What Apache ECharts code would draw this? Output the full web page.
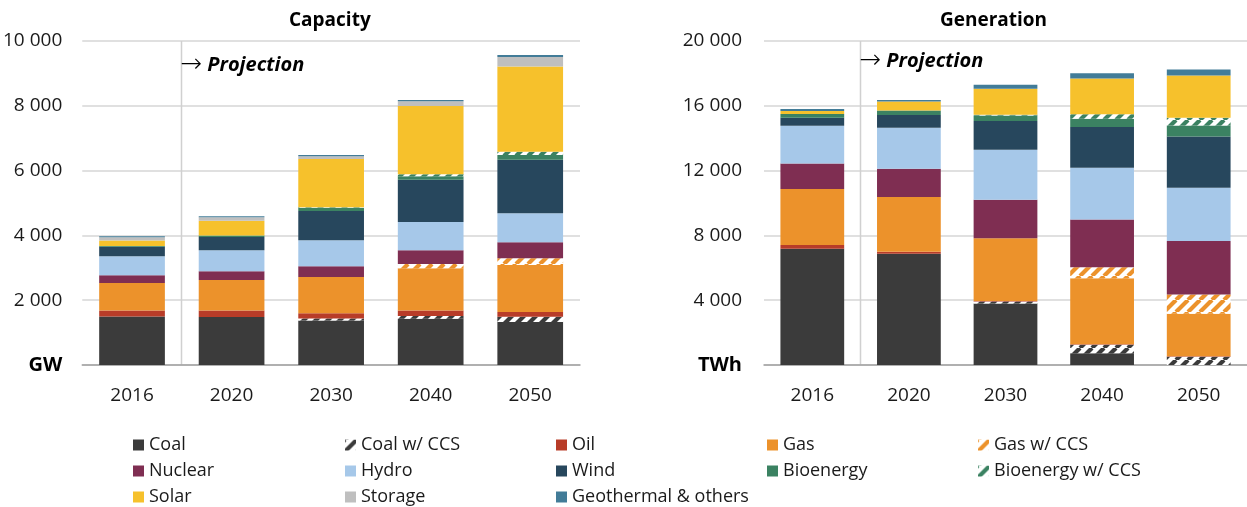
<!DOCTYPE html>
<html>
<head>
<meta charset="utf-8">
<script src="https://cdn.jsdelivr.net/npm/echarts@6/dist/echarts.min.js"></script>
<style>
html,body{margin:0;padding:0;background:#fff;}
#chart{width:1247px;height:507px;}
</style>
</head>
<body>
<div id="chart"></div>
<script>
// ---------- DATA ----------
const years = ['2016', '2020', '2030', '2040', '2050'];

// Capacity (GW)
const capCoal       = [1500, 1480, 1375, 1430, 1325];
const capCoalCCS    = [0, 0, 60, 80, 165];
const capOil        = [185, 205, 165, 175, 145];
const capGas        = [845, 935, 1115, 1300, 1455];
const capGasCCS     = [0, 0, 0, 135, 205];
const capNuclear    = [240, 270, 330, 425, 495];
const capHydro      = [590, 650, 805, 865, 895];
const capWind       = [290, 410, 905, 1310, 1650];
const capBio        = [20, 50, 95, 105, 145];
const capBioCCS     = [0, 0, 15, 60, 105];
const capSolar      = [175, 455, 1495, 2110, 2630];
const capStorage    = [100, 105, 85, 145, 290];
const capGeo        = [30, 30, 40, 40, 60];

// Generation (TWh)
const genCoal       = [7170, 6860, 3790, 720, 0];
const genCoalCCS    = [0, 0, 125, 535, 515];
const genOil        = [245, 125, 40, 20, 30];
const genGas        = [3445, 3380, 3875, 4080, 2615];
const genGasCCS     = [0, 0, 0, 680, 1195];
const genNuclear    = [1585, 1750, 2370, 2945, 3295];
const genHydro      = [2330, 2535, 3090, 3195, 3295];
const genWind       = [495, 785, 1775, 2515, 3155];
const genBio        = [225, 270, 330, 515, 680];
const genBioCCS     = [0, 0, 60, 270, 475];
const genSolar      = [185, 555, 1605, 2205, 2615];
const genGeo        = [125, 105, 245, 330, 370];

const capTicks = [0, 2000, 4000, 6000, 8000, 10000];
const genTicks = [0, 4000, 8000, 12000, 16000, 20000];

// Legend layout (rows of names)
const legendRows = [
  ['Coal', 'Coal w/ CCS', 'Oil', 'Gas', 'Gas w/ CCS'],
  ['Nuclear', 'Hydro', 'Wind', 'Bioenergy', 'Bioenergy w/ CCS'],
  ['Solar', 'Storage', 'Geothermal & others']
];

// ---------- STYLE ----------
const FONT = "'Open Sans', 'Noto Sans', sans-serif";
const C = {
  coal: '#3b3b3b', oil: '#b83c28', gas: '#ec922b', nuclear: '#7f2e52',
  hydro: '#a6c8e9', wind: '#27475d', bio: '#3b8262', solar: '#f6c12c',
  storage: '#bfbfbf', geo: '#427c98'
};

function hatch(color) {
  const s = 12;
  const c = document.createElement('canvas');
  c.width = s; c.height = s;
  const g = c.getContext('2d');
  g.fillStyle = '#ffffff';
  g.fillRect(0, 0, s, s);
  g.strokeStyle = color;
  g.lineWidth = 4.2;
  g.beginPath();
  for (const o of [-s, 0, s]) { g.moveTo(o, s); g.lineTo(o + s, 0); }
  g.stroke();
  return { image: c, repeat: 'repeat' };
}

const defs = [
  ['Coal',               C.coal,            capCoal,    genCoal],
  ['Coal w/ CCS',        hatch(C.coal),     capCoalCCS, genCoalCCS],
  ['Oil',                C.oil,             capOil,     genOil],
  ['Gas',                C.gas,             capGas,     genGas],
  ['Gas w/ CCS',         hatch(C.gas),      capGasCCS,  genGasCCS],
  ['Nuclear',            C.nuclear,         capNuclear, genNuclear],
  ['Hydro',              C.hydro,           capHydro,   genHydro],
  ['Wind',               C.wind,            capWind,    genWind],
  ['Bioenergy',          C.bio,             capBio,     genBio],
  ['Bioenergy w/ CCS',   hatch(C.bio),      capBioCCS,  genBioCCS],
  ['Solar',              C.solar,           capSolar,   genSolar],
  ['Storage',            C.storage,         capStorage, null],
  ['Geothermal & others',C.geo,             capGeo,     genGeo]
];

const series = [];
defs.forEach(([name, color, cap, gen]) => {
  series.push({
    name, type: 'bar', stack: 'cap', xAxisIndex: 0, yAxisIndex: 0,
    barWidth: '66%', data: cap, itemStyle: { color }, animation: false
  });
  if (gen) series.push({
    name, type: 'bar', stack: 'gen', xAxisIndex: 1, yAxisIndex: 1,
    barWidth: '66%', data: gen, itemStyle: { color }, animation: false
  });
});

function fmt(unit) {
  return function (v) {
    if (v === 0) return '{u|' + unit + '}';
    return String(v).replace(/\B(?=(\d{3})+(?!\d))/g, ' ');
  };
}

function yAxis(gridIndex, ticks, unit, margin) {
  return {
    type: 'value', gridIndex, min: ticks[0], max: ticks[ticks.length - 1],
    interval: ticks[1] - ticks[0],
    axisLine: { show: false }, axisTick: { show: false },
    splitLine: { lineStyle: { color: '#d6d6d6', width: 1.5 } },
    axisLabel: {
      formatter: fmt(unit), margin, color: '#1a1a1a', fontSize: 19, fontFamily: FONT,
      rich: { u: { fontWeight: 'bold', fontSize: 20, color: '#000', fontFamily: FONT } }
    }
  };
}
function xAxis(gridIndex) {
  return {
    type: 'category', gridIndex, data: years,
    axisTick: { show: false },
    axisLine: { lineStyle: { color: '#a0a0a0', width: 1.5 } },
    axisLabel: { margin: 21, color: '#1a1a1a', fontSize: 19, fontFamily: FONT }
  };
}

const legendX = [133, 345, 556, 767, 978];
const legendY = [436, 462, 488];
const legends = [];
legendRows.forEach((row, r) => {
  row.forEach((name, c) => {
    legends.push({
      left: legendX[c], top: legendY[r], padding: 0, data: [name],
      icon: 'rect', itemWidth: 11, itemHeight: 11,
      selectedMode: false,
      textStyle: { fontSize: 18, lineHeight: 18, color: '#1a1a1a', fontFamily: FONT }
    });
  });
});

const option = {
  backgroundColor: '#fff',
  animation: false,
  title: [
    { text: 'Capacity', left: 289, top: 11, padding: 0,
      textStyle: { fontSize: 19, fontWeight: 'bold', color: '#000', fontFamily: FONT } },
    { text: 'Generation', left: 940, top: 11, padding: 0,
      textStyle: { fontSize: 19, fontWeight: 'bold', color: '#000', fontFamily: FONT } }
  ],
  grid: [
    { left: 80, top: 41, width: 500, height: 324 },
    { left: 764, top: 41, width: 486, height: 324 }
  ],
  xAxis: [xAxis(0), xAxis(1)],
  yAxis: [yAxis(0, capTicks, 'GW', 20), yAxis(1, genTicks, 'TWh', 22)],
  legend: legends,
  series
};

const chart = echarts.init(document.getElementById('chart'), null, { renderer: 'canvas' });
chart.setOption(option);

// Projection separator lines and labels (between 2016 and 2020)
function projGraphics(gridIdx, textTop) {
  const p0 = chart.convertToPixel({ xAxisIndex: gridIdx, yAxisIndex: gridIdx }, [years[0], 0]);
  const p1 = chart.convertToPixel({ xAxisIndex: gridIdx, yAxisIndex: gridIdx }, [years[1], 0]);
  const topV = gridIdx === 0 ? capTicks[capTicks.length - 1] : genTicks[genTicks.length - 1];
  const pt = chart.convertToPixel({ xAxisIndex: gridIdx, yAxisIndex: gridIdx }, [years[0], topV]);
  const x = Math.round((p0[0] + p1[0]) / 2) - 0.5;
  return [
    { type: 'line', z: 0, shape: { x1: x, y1: pt[1], x2: x, y2: p0[1] },
      style: { stroke: '#d0d0d0', lineWidth: 1.5 } },
    { type: 'text', z: 10, x: x - 1, y: textTop,
      style: {
        text: '{a|→}{p|Projection}',
        verticalAlign: 'middle',
        rich: {
          a: { fontSize: 26, color: '#8a8a8a', fontFamily: "'DejaVu Sans', sans-serif", fontWeight: 'lighter', padding: [0, 5, 0, 0] },
          p: { fontSize: 20, fontWeight: 'bold', fontStyle: 'italic', color: '#595959', fontFamily: FONT }
        }
      } }
  ];
}
chart.setOption({ graphic: projGraphics(0, 65).concat(projGraphics(1, 61)) });
</script>
</body>
</html>
